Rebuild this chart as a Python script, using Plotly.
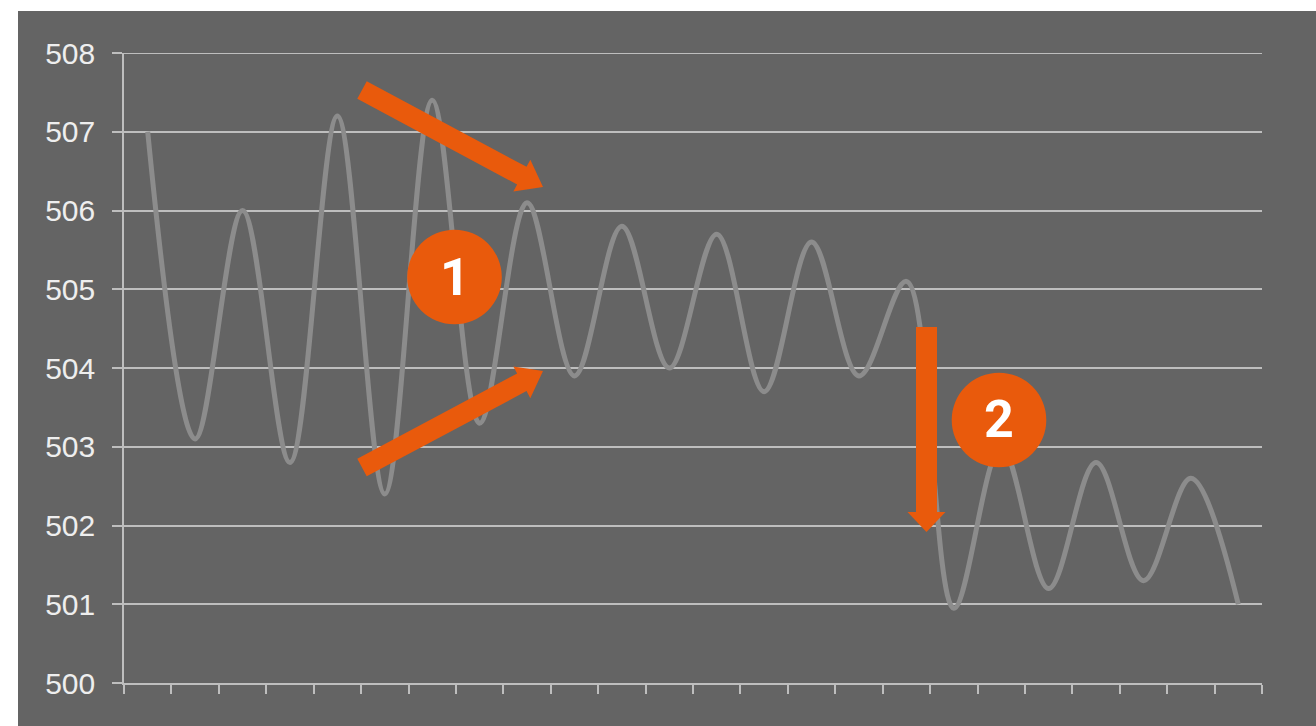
import math
import plotly.graph_objects as go

# ---- data ----
categories = [str(i) for i in range(1, 25)]
values = [507.0, 503.1, 506.0, 502.8, 507.2, 502.4, 507.4, 503.3, 506.1, 503.9,
          505.8, 504.0, 505.7, 503.7, 505.6, 503.9, 505.1, 500.95, 503.0, 501.2,
          502.8, 501.3, 502.6, 501.0]
y_ticks = [500, 501, 502, 503, 504, 505, 506, 507, 508]
callout_labels = ["1", "2"]

W, H = 1316, 726
# plot area in page pixels: x 124..1262, y 53..683
L, R, T, B = 124, W - 1262, 53, H - 683
PW, PH = W - L - R, H - T - B

def px(x):  # page pixel -> paper
    return (x - L) / PW

def py(y):
    return (683 - y) / PH

ORANGE = "#E95A0C"
BG = "#646464"
GRID = "#bebebe"

fig = go.Figure()
fig.add_trace(go.Scatter(
    x=categories, y=values, mode="lines",
    line=dict(color="#8c8c8c", width=5, shape="spline", smoothing=1.0),
    hoverinfo="skip", showlegend=False,
))

def arrow_path(tail, tip, w, hw, hl):
    x0, y0 = tail
    x1, y1 = tip
    dx, dy = x1 - x0, y1 - y0
    d = math.hypot(dx, dy)
    ux, uy = dx / d, dy / d
    nx, ny = -uy, ux
    neck = (x1 - ux * hl, y1 - uy * hl)
    pts = [
        (x0 + nx * w / 2, y0 + ny * w / 2),
        (neck[0] + nx * w / 2, neck[1] + ny * w / 2),
        (neck[0] + nx * hw / 2, neck[1] + ny * hw / 2),
        (x1, y1),
        (neck[0] - nx * hw / 2, neck[1] - ny * hw / 2),
        (neck[0] - nx * w / 2, neck[1] - ny * w / 2),
        (x0 - nx * w / 2, y0 - ny * w / 2),
    ]
    return "M " + " L ".join(f"{px(a):.5f},{py(b):.5f}" for a, b in pts) + " Z"

shapes = []
# white frame strips (left & top)
shapes.append(dict(type="rect", xref="paper", yref="paper",
                   x0=px(-5), x1=px(18), y0=py(H + 5), y1=py(-5),
                   fillcolor="white", line=dict(width=0), layer="above"))
shapes.append(dict(type="rect", xref="paper", yref="paper",
                   x0=px(-5), x1=px(W + 5), y0=py(11), y1=py(-5),
                   fillcolor="white", line=dict(width=0), layer="above"))
# top gridline at 508
shapes.append(dict(type="line", xref="paper", yref="y", x0=0, x1=1,
                   y0=y_ticks[-1], y1=y_ticks[-1],
                   line=dict(color=GRID, width=2), layer="below"))

for tail, tip, w, hw, hl in [
    ((362, 90), (543, 187), 20, 36, 24),
    ((362, 467.5), (543, 371), 20, 36, 24),
    ((926.5, 327), (926.5, 532), 21, 38, 20),
]:
    shapes.append(dict(type="path", xref="paper", yref="paper",
                       path=arrow_path(tail, tip, w, hw, hl),
                       fillcolor=ORANGE, line=dict(width=0), layer="above"))

circles = [(454.5, 277, 47.3), (999, 420, 47.3)]
annotations = []
for (cx, cy, r), lab in zip(circles, callout_labels):
    shapes.append(dict(type="circle", xref="paper", yref="paper",
                       x0=px(cx - r), x1=px(cx + r), y0=py(cy + r), y1=py(cy - r),
                       fillcolor=ORANGE, line=dict(width=0), layer="above"))
    annotations.append(dict(xref="paper", yref="paper", x=px(cx), y=py(cy),
                            text=f"<b>{lab}</b>", showarrow=False,
                            font=dict(family="Roboto", size=52, color="white"),
                            xanchor="center", yanchor="middle"))

fig.update_layout(
    width=W, height=H,
    margin=dict(l=L, r=R, t=T, b=B),
    paper_bgcolor=BG, plot_bgcolor=BG,
    shapes=shapes, annotations=annotations,
    xaxis=dict(
        type="category", range=[-0.5, 23.5], showgrid=False,
        showline=True, linecolor=GRID, linewidth=1.5,
        ticks="outside", ticklen=9, tickwidth=1.5, tickcolor=GRID,
        tickson="boundaries", showticklabels=False, zeroline=False,
    ),
    yaxis=dict(
        range=[500, 508], tickvals=y_ticks, ticktext=[str(v) for v in y_ticks],
        showgrid=True, gridcolor=GRID, gridwidth=1.8,
        showline=True, linecolor=GRID, linewidth=1.5,
        ticks="outside", ticklen=10, tickwidth=1.5, tickcolor=GRID,
        ticklabelstandoff=11, zeroline=False,
        tickfont=dict(family="Liberation Sans", size=30, color="#eeeeee"),
    ),
)

fig.write_html(
    "out.html",
    config={"displayModeBar": False},
    post_script="document.body.style.margin='0';document.body.style.overflow='hidden';",
)
